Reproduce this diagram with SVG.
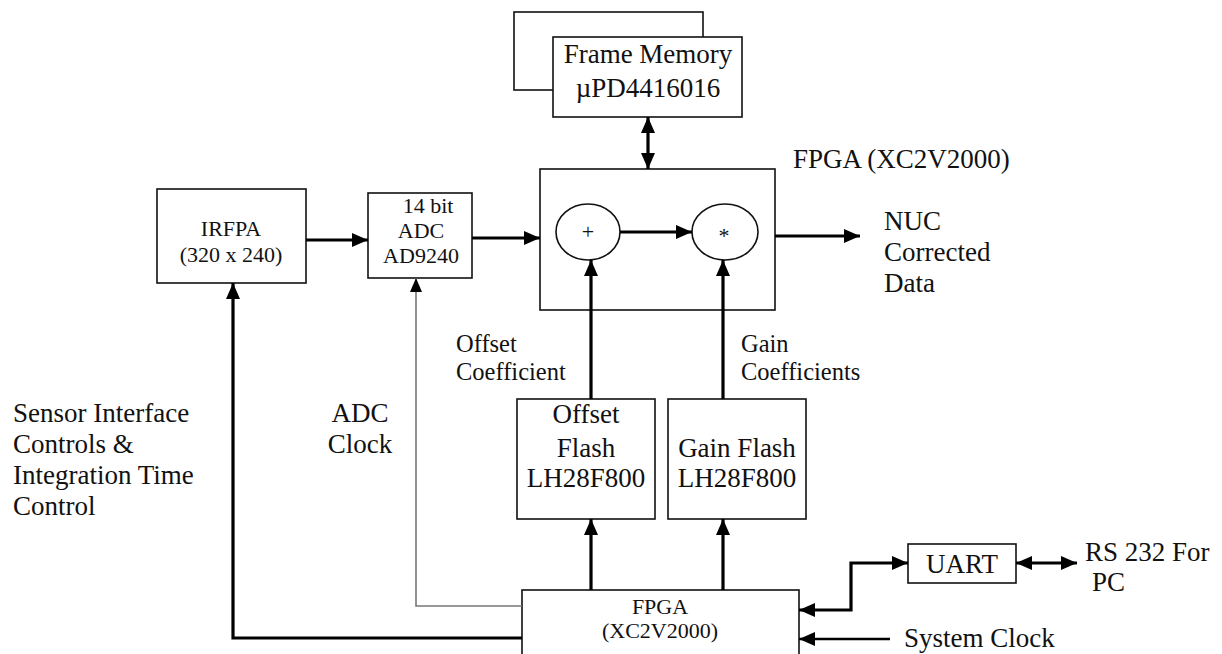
<svg xmlns="http://www.w3.org/2000/svg" width="1222" height="654" viewBox="0 0 1222 654">
<style>
  .box { fill: #fff; stroke: #111; stroke-width: 1.6; }
  .t { font-family: "Liberation Serif", "Times New Roman", serif; fill: #111; }
  .big { font-size: 27px; }
  .mid { font-size: 24.5px; }
  .sm { font-size: 22px; }
  .c { text-anchor: middle; }
  .thick { fill: none; stroke: #000; stroke-width: 3.2; }
  .thin { fill: none; stroke: #777; stroke-width: 1.6; }
</style>
<defs>
  <marker id="ah" markerUnits="userSpaceOnUse" viewBox="0 0 16 14" markerWidth="16" markerHeight="14" refX="16" refY="7" orient="auto-start-reverse">
    <path d="M0,0 L16,7 L0,14 Z" fill="#000"/>
  </marker>
  <marker id="ahs" markerUnits="userSpaceOnUse" viewBox="0 0 14 12" markerWidth="14" markerHeight="12" refX="14" refY="6" orient="auto-start-reverse">
    <path d="M0,0 L14,6 L0,12 Z" fill="#000"/>
  </marker>
</defs>
<rect width="1222" height="654" fill="#fff"/>

<g id="frame-memory">
  <rect class="box" x="514" y="12" width="189" height="78"/>
  <rect class="box" x="553" y="37" width="189" height="80"/>
  <text class="t big c" x="648" y="63">Frame Memory</text>
  <text class="t big c" x="648" y="97">µPD4416016</text>
</g>

<g id="fpga-main">
  <rect class="box" x="540" y="169" width="235" height="141"/>
  <text class="t big" x="793" y="168">FPGA (XC2V2000)</text>
</g>

<g id="adder">
  <ellipse class="box" cx="588" cy="232" rx="32" ry="28"/>
  <text class="t sm c" x="588" y="239">+</text>
</g>

<g id="multiplier">
  <ellipse class="box" cx="725" cy="232" rx="33" ry="28"/>
  <text class="t sm c" x="724" y="243">*</text>
</g>

<g id="irfpa">
  <rect class="box" x="157" y="189" width="149" height="94"/>
  <text class="t sm c" x="231" y="236">IRFPA</text>
  <text class="t sm c" x="231" y="262">(320 x 240)</text>
</g>

<g id="adc">
  <rect class="box" x="368" y="193" width="104" height="85"/>
  <text class="t sm c" x="428" y="213">14 bit</text>
  <text class="t sm c" x="421" y="238">ADC</text>
  <text class="t sm c" x="421" y="263">AD9240</text>
</g>

<g id="offset-flash">
  <rect class="box" x="517" y="399" width="138" height="120"/>
  <text class="t big c" x="586" y="423">Offset</text>
  <text class="t big c" x="586" y="457">Flash</text>
  <text class="t big c" x="586" y="487">LH28F800</text>
</g>

<g id="gain-flash">
  <rect class="box" x="668" y="399" width="138" height="120"/>
  <text class="t big c" x="737" y="457">Gain Flash</text>
  <text class="t big c" x="737" y="487">LH28F800</text>
</g>

<g id="fpga-ctrl">
  <rect class="box" x="522" y="590" width="277" height="70"/>
  <text class="t sm c" x="660" y="614">FPGA</text>
  <text class="t sm c" x="660" y="638">(XC2V2000)</text>
</g>

<g id="uart">
  <rect class="box" x="908" y="544" width="108" height="39"/>
  <text class="t big c" x="962" y="573">UART</text>
</g>

<g id="labels">
  <text class="t big" x="884" y="230">NUC</text>
  <text class="t big" x="884" y="261">Corrected</text>
  <text class="t big" x="884" y="292">Data</text>
  <text class="t mid" x="456" y="352">Offset</text>
  <text class="t mid" x="456" y="380">Coefficient</text>
  <text class="t mid" x="741" y="352">Gain</text>
  <text class="t mid" x="741" y="380">Coefficients</text>
  <text class="t big" x="13" y="422">Sensor Interface</text>
  <text class="t big" x="13" y="453">Controls &amp;</text>
  <text class="t big" x="13" y="484">Integration Time</text>
  <text class="t big" x="13" y="515">Control</text>
  <text class="t big c" x="360" y="422">ADC</text>
  <text class="t big c" x="360" y="453">Clock</text>
  <text class="t big" x="1085" y="561">RS 232 For</text>
  <text class="t big" x="1092" y="591">PC</text>
  <text class="t big" x="904" y="647">System Clock</text>
</g>

<g id="connectors">
  <line class="thick" x1="648" y1="117" x2="648" y2="169" marker-start="url(#ah)" marker-end="url(#ah)"/>
  <line class="thick" x1="306" y1="240" x2="368" y2="240" marker-end="url(#ah)"/>
  <line class="thick" x1="472" y1="238" x2="540" y2="238" marker-end="url(#ah)"/>
  <line class="thick" x1="620" y1="232" x2="692" y2="232" marker-end="url(#ah)"/>
  <line class="thick" x1="775" y1="236" x2="860" y2="236" marker-end="url(#ah)"/>
  <line class="thick" x1="591" y1="399" x2="591" y2="260" marker-end="url(#ah)"/>
  <line class="thick" x1="723" y1="399" x2="723" y2="260" marker-end="url(#ah)"/>
  <line class="thick" x1="591" y1="590" x2="591" y2="519" marker-end="url(#ah)"/>
  <line class="thick" x1="723" y1="590" x2="723" y2="519" marker-end="url(#ah)"/>
  <polyline class="thick" points="522,638 233,638 233,283" marker-end="url(#ah)"/>
  <polyline class="thin" points="522,606 416,606 416,278" marker-end="url(#ahs)"/>
  <polyline class="thick" points="799,610 851,610 851,563 908,563" marker-start="url(#ah)" marker-end="url(#ah)"/>
  <line class="thick" x1="1016" y1="563" x2="1077" y2="563" marker-start="url(#ah)" marker-end="url(#ah)"/>
  <line class="thick" x1="890" y1="639" x2="799" y2="639" marker-end="url(#ah)" style="stroke-width:2.4"/>
</g>
</svg>
